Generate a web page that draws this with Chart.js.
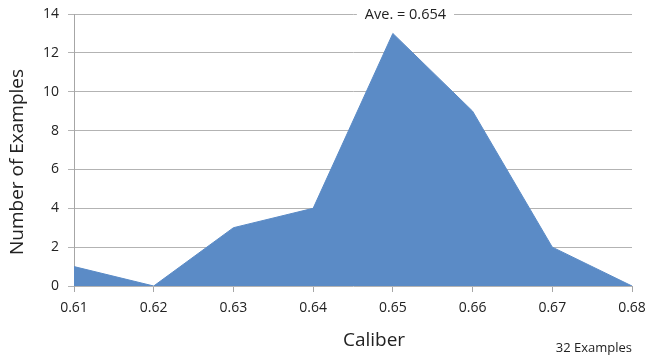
<!doctype html>
<html lang="en">
	<head>
		<meta charset="utf-8">
		<title>Caliber</title>
		<script src="https://cdn.jsdelivr.net/npm/chart.js"></script>
		<style>
			html, body { margin: 0; padding: 0; background: #fff; }
			#wrap { width: 647px; height: 360px; position: relative; }
		</style>
	</head>
	<body>
		<div id="wrap"><canvas id="caliberChart"></canvas></div>
		<script>
			// values
			var calibers = ['0.61', '0.62', '0.63', '0.64', '0.65', '0.66', '0.67', '0.68'];
			var counts = [1, 0, 3, 4, 13, 9, 2, 0];
			var aveLabel = 'Ave. = 0.654';
			var footLabel = '32 Examples';
			var xTitle = 'Caliber';
			var yTitle = 'Number of Examples';

			const FONT = "'Open Sans', sans-serif";

			// axis titles, the average label over the top gridline and the note bottom right
			const notes = {
				id: 'notes',
				afterDraw(chart) {
					const ctx = chart.ctx;
					const area = chart.chartArea;
					ctx.save();
					ctx.textBaseline = 'middle';
					ctx.textAlign = 'center';

					ctx.font = '14.5px ' + FONT;
					var cx = area.left + (area.right - area.left) * 0.594;
					var w = ctx.measureText(aveLabel).width + 16;
					ctx.fillStyle = '#fff';
					ctx.fillRect(cx - w / 2, area.top - 9, w, 18);
					ctx.fillStyle = '#222';
					ctx.fillText(aveLabel, cx, area.top + 1);

					ctx.font = '19px ' + FONT;
					ctx.fillText(xTitle, 374, 341);

					ctx.save();
					ctx.translate(18, 162);
					ctx.rotate(-Math.PI / 2);
					ctx.fillText(yTitle, 0, 0);
					ctx.restore();

					ctx.font = '13px ' + FONT;
					ctx.textAlign = 'right';
					ctx.fillText(footLabel, 632, 348);
					ctx.restore();
				}
			};

			new Chart(document.getElementById('caliberChart'), {
				type: 'line',
				data: {
					labels: calibers,
					datasets: [{
						data: counts,
						fill: 'origin',
						backgroundColor: '#5b8bc6',
						borderColor: '#5b8bc6',
						borderWidth: 1,
						pointRadius: 0,
						tension: 0
					}]
				},
				options: {
					responsive: true,
					maintainAspectRatio: false,
					animation: false,
					layout: { padding: { top: 14, right: 15, left: 0, bottom: 0 } },
					plugins: {
						legend: { display: false },
						tooltip: { enabled: false }
					},
					scales: {
						x: {
							offset: false,
							grid: {
								drawOnChartArea: false,
								drawTicks: true,
								tickLength: 6,
								color: '#a6a6a6'
							},
							border: { display: false },
							ticks: {
								color: '#222',
								font: { family: FONT, size: 14 },
								padding: 8,
								maxRotation: 0
							},
							afterFit(scale) {
								scale.height = 74;
								scale.paddingLeft = 0;
								scale.paddingRight = 0;
							}
						},
						y: {
							min: 0,
							max: 14,
							grid: {
								color: '#b3b3b3',
								tickLength: 6
							},
							border: { color: '#a6a6a6' },
							ticks: {
								stepSize: 2,
								color: '#222',
								font: { family: FONT, size: 14 },
								padding: 9
							},
							afterFit(scale) {
								scale.width = 74;
								scale.paddingTop = 0;
								scale.paddingBottom = 0;
							}
						}
					}
				},
				plugins: [notes]
			});
		</script>
	</body>
</html>
